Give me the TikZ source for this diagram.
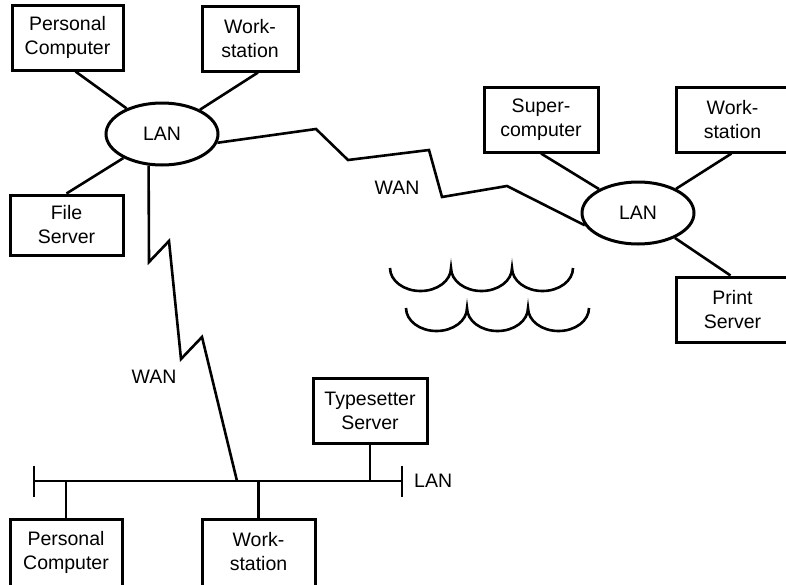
\documentclass[tikz,border=0pt]{standalone}
\usepackage{fontspec}
\setmainfont{Liberation Sans}
\usetikzlibrary{shapes.geometric}
\begin{document}
\begin{tikzpicture}[x=1pt,y=-1pt,
  txt/.style={inner sep=0pt,align=center,font=\fontsize{19.5}{24}\selectfont},
  box/.style={txt,draw,line width=3pt},
  lanell/.style={ellipse,draw,line width=3pt,minimum width=112pt,minimum height=62pt,inner sep=0pt,font=\fontsize{19.5}{24}\selectfont},
  wire/.style={line width=2.6pt}]
\useasboundingbox (0,0) rectangle (786,584);
\clip (0,0) rectangle (786,584);
% top-left cluster
\node[box,minimum width=111pt,minimum height=65pt] (pc1) at (67.5,37.5) {Personal\\Computer};
\node[box,minimum width=96pt,minimum height=65pt] (ws1) at (250,38.5) {Work-\\station};
\node[box,minimum width=113pt,minimum height=60pt] (fs) at (66.5,225) {File\\Server};
\node[lanell] (lan1) at (162,134) {LAN};
% right cluster
\node[box,minimum width=114pt,minimum height=65pt] (sc) at (541,119.5) {Super-\\computer};
\node[box,minimum width=113pt,minimum height=65pt] (ws2) at (732.5,119.5) {Work-\\station};
\node[box,minimum width=113pt,minimum height=65pt] (ps) at (732.5,309.5) {Print\\Server};
\node[lanell] (lan2) at (638,213) {LAN};
% bottom bus
\node[box,minimum width=114pt,minimum height=65pt] (ts) at (370,410.5) {Typesetter\\Server};
\node[box,minimum width=112pt,minimum height=80pt] (pc2) at (66,559) {};
\node[txt] (pc2t) at (66,552) {Personal\\Computer};
\node[box,minimum width=113pt,minimum height=80pt] (ws3) at (258.5,559) {};
\node[txt] (ws3t) at (258.5,552) {Work-\\station};
\coordinate (busL) at (34,481);
\coordinate (busR) at (402,481);
\coordinate (junc) at (237,481);
\coordinate (tlA) at (34,466); \coordinate (tlB) at (34,497);
\coordinate (trA) at (402,466); \coordinate (trB) at (402,497);
\node[txt,anchor=west] (lan3) at (414,481) {LAN};
% labels
\node[txt] (wan1) at (397,188) {WAN};
\node[txt] (wan2) at (154,377) {WAN};
% connectors
\draw[wire] ([xshift=8pt]pc1.south) -- (lan1);
\draw[wire] ([xshift=8pt]ws1.south) -- (lan1);
\draw[wire] (fs.north) -- (lan1);
\draw[wire] (sc.south) -- (lan2);
\draw[wire] ([xshift=-1pt]ws2.south) -- (lan2);
\draw[wire] ([xshift=-2pt]ps.north) -- (lan2);
\draw[wire] (lan1.-9) -- (316,129) -- (348,160) -- (429,150) -- (442,197) -- (507,186) -- (lan2.193);
\draw[wire] (lan1.247) -- (149,262) -- (169,241) -- (181,359) -- (202,337) -- (junc);
\draw[wire] (busL) -- (busR);
\draw[wire] (tlA) -- (tlB);
\draw[wire] (trA) -- (trB);
\draw[wire] (pc2.north) -- (pc2.north |- busL);
\draw[wire] (ws3.north) -- (ws3.north |- busL);
\draw[wire] (ts.south) -- (ts.south |- busL);
% waves
\draw[wire] (390,268) arc[start angle=180,end angle=360,x radius=30.5pt,y radius=23pt]
  arc[start angle=180,end angle=360,x radius=30.5pt,y radius=23pt]
  arc[start angle=180,end angle=360,x radius=30.5pt,y radius=23pt];
\draw[wire] (406,308) arc[start angle=180,end angle=360,x radius=30.5pt,y radius=23pt]
  arc[start angle=180,end angle=360,x radius=30.5pt,y radius=23pt]
  arc[start angle=180,end angle=360,x radius=30.5pt,y radius=23pt];
\end{tikzpicture}
\end{document}
